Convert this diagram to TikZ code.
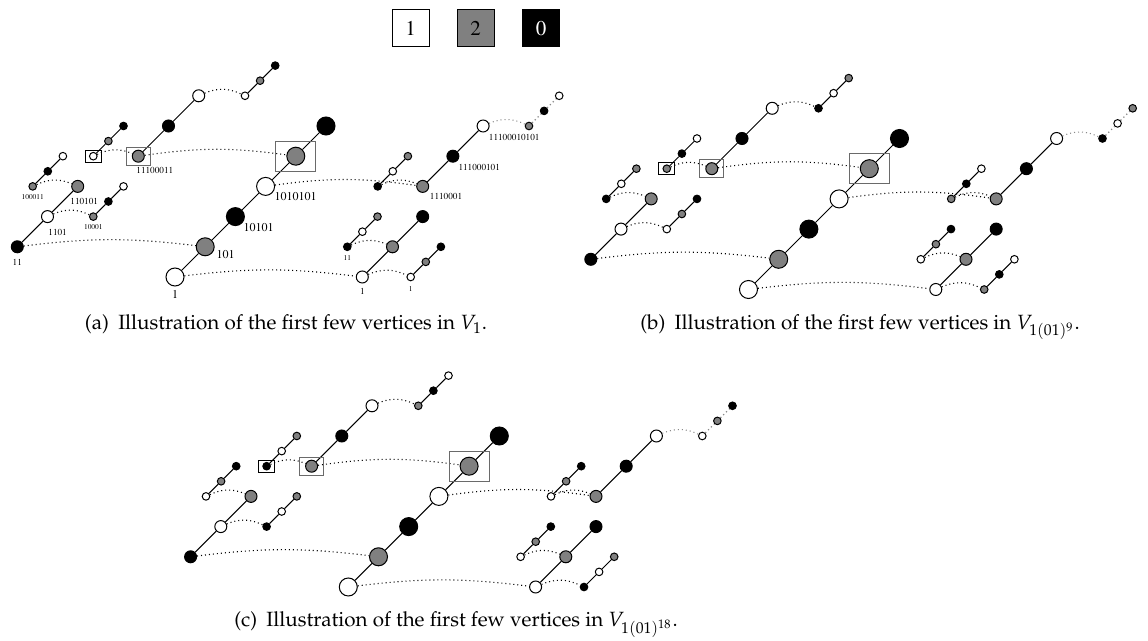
\documentclass[tikz,border=0pt]{standalone}
\usepackage[T1]{fontenc}
\usepackage{mathpazo}
\usepackage{xcolor}
\usepackage{tikz}
\usetikzlibrary{positioning}
\definecolor{col0}{HTML}{FFFFFF}
\definecolor{col1}{HTML}{808080}
\definecolor{col2}{HTML}{000000}
\definecolor{boxgray}{HTML}{6A6A6A}
\definecolor{fadegray}{HTML}{8A8A8A}

\tikzset{
  vtx/.style={circle,draw=black,line width=0.5pt,inner sep=0pt},
  vbig/.style={vtx,minimum size=9pt},
  vmid/.style={vtx,minimum size=6pt},
  vsml/.style={vtx,minimum size=3.8pt},
  rung/.style={line width=0.5pt},
  fadelink/.style={fadegray,line width=0.6pt,dash pattern=on 0.6pt off 1.4pt},
  hop/.style={line width=0.55pt,dash pattern=on 0.5pt off 1.5pt},
  boxS/.style={draw=black,line width=0.5pt,minimum width=8pt,minimum height=6pt,inner sep=0pt},
  boxM/.style={draw=boxgray,line width=0.6pt,minimum width=12pt,minimum height=9pt,inner sep=0pt},
  boxL/.style={draw=boxgray,line width=0.6pt,minimum width=20pt,minimum height=15pt,inner sep=0pt},
  lblL/.style={inner sep=0pt,font=\fontfamily{ptm}\fontsize{6}{7}\selectfont},
  lblM/.style={inner sep=0pt,font=\fontfamily{ptm}\fontsize{4.6}{5}\selectfont},
  lblS/.style={inner sep=0pt,font=\fontfamily{ptm}\fontsize{3.7}{4}\selectfont},
  legbox/.style={draw=black,line width=0.5pt,minimum size=18.5pt,inner sep=0pt,
    font=\fontfamily{ptm}\fontsize{10.5}{12}\selectfont},
  captext/.style={inner sep=0pt,anchor=base,font=\fontsize{10.3}{12}\selectfont}
}

% name, x, y, count, step, shape, first colour, link style
\newcommand\vchain[8]{%
  \foreach \k in {1,...,#4}{
    \pgfmathtruncatemacro{\cc}{mod(#7+\k-1,3)}
    \node[#6,fill=col\cc] (#1\k) at ({#2+(\k-1)*#5},{#3-(\k-1)*#5}) {};
    \ifnum\k>1
      \pgfmathtruncatemacro{\p}{\k-1}
      \draw[#8] (#1\p) -- (#1\k);
    \fi
  }%
}

% name, x shift, y shift, first colours of the eight short chains
\newcommand\vpanel[4]{%
  \begin{scope}[shift={(#2,#3)}]
    \vchain{#1L}{175}{277}{6}{30.2}{vbig}{0}{rung}
    \vchain{#1A}{17.3}{246.8}{3}{30.2}{vmid}{2}{rung}
    \vchain{#1B}{138.3}{156.2}{3}{30.2}{vmid}{1}{rung}
    \vchain{#1C}{362.3}{277}{3}{30.2}{vmid}{0}{rung}
    \vchain{#1D}{422.7}{186.4}{3}{30.2}{vmid}{1}{rung}
    \foreach \nm/\x/\y [count=\i from 0] in {S1/32.7/186.4,S2/93.3/216.6,S3/93.3/156.2,
        S4/245/95.8,S5/347.3/246.8,S6/410.7/277,S7/377.7/186.4}{
      \pgfmathtruncatemacro{\vc}{{#4}[\i]}
      \vchain{#1\nm}{\x}{\y}{3}{15.1}{vsml}{\vc}{rung}
    }
    \pgfmathtruncatemacro{\vc}{{#4}[7]}
    \vchain{#1S8}{529}{126}{3}{15.1}{vsml}{\vc}{fadelink}
    % dotted hops between the chains
    \draw[hop] (#1L1) to[bend left=7] (#1C1);
    \draw[hop] (#1C1) to[bend left=24] (#1S61);
    \draw[hop] (#1A1) to[bend left=7] (#1L2);
    \draw[hop] (#1S51) to[bend left=24] (#1C2);
    \draw[hop] (#1A2) to[bend left=24] (#1S21);
    \draw[hop] (#1S11) to[bend left=24] (#1A3);
    \draw[hop] (#1L4) to[bend left=8] (#1D1);
    \draw[hop] (#1S71) to[bend left=24] (#1D1);
    \draw[hop] (#1S31) to[bend left=24] (#1B1);
    \draw[hop] (#1B1) to[bend left=8] (#1L5);
    \draw[hop] (#1B3) to[bend left=24] (#1S41);
    \draw[hop,fadegray] (#1D3) to[bend left=24] (#1S81);
    \node[boxS] (#1boxS) at (#1S31) {};
    \node[boxM] (#1boxM) at (#1B1) {};
    \node[boxL] (#1boxL) at (#1L5) {};
  \end{scope}%
}

\begin{document}
\begin{tikzpicture}[x=0.5pt,y=-0.5pt]
  \useasboundingbox (0,0) rectangle (1148,641);

  \node[legbox,fill=col0] (key1) at (410.5,28) {1};
  \node[legbox,fill=col1] (key2) at (475.5,28) {2};
  \node[legbox,fill=col2,text=white] (key0) at (541,28) {0};

  \vpanel{a}{0}{0}{1,1,0,0,2,0,2,1}
  \vpanel{b}{573.5}{12.5}{2,0,1,2,0,1,1,2}
  \vpanel{c}{173.3}{310}{0,2,2,1,0,2,0,0}

  % words under the vertices of (a)
  \node[lblL,below=1.5pt of aL1] (t1) {1};
  \node[lblL,below right=1.8pt and 0.8pt of aL2.east] (t101) {101};
  \node[lblL,below right=3.2pt and -0.9pt of aL3.east] (t10101) {10101};
  \node[lblL,below right=3pt and -0.45pt of aL4.east] (t1010101) {1010101};
  \node[lblM,below=2.8pt of aA1] (t11) {11};
  \node[lblM,below right=2.9pt and 0.25pt of aA2.south] (t1101) {1101};
  \node[lblM,below right=2.5pt and -3.85pt of aA3.south] (t110101) {110101};
  \node[lblM,below right=2.3pt and -1.15pt of aB1.south] (t11100011) {11100011};
  \node[lblM,below=2.2pt of aC1] (tc1) {1};
  \node[lblM,below right=3pt and 0.15pt of aD1.east] (t1110001) {1110001};
  \node[lblM,below right=3.9pt and -0.65pt of aD2.east] (t111000101) {111000101};
  \node[lblM,below right=4pt and -0.55pt of aD3.east] (t11100010101) {11100010101};
  \node[lblS,below=1.6pt of aS11] (t100011) {100011};
  \node[lblS,below=1.5pt of aS21] (t10001) {10001};
  \node[lblS,below=1.9pt of aS51] (ts11) {11};
  \node[lblS,below=2.6pt of aS61] (ts1) {1};

  \node[captext] (capa) at (286,330) {(a)\hspace{0.45em}Illustration of the first few vertices in $V_1$.};
  \node[captext] (capb) at (860,330) {(b)\hspace{0.45em}Illustration of the first few vertices in $V_{1(01)^9}$.};
  \node[captext] (capc) at (456,627) {(c)\hspace{0.45em}Illustration of the first few vertices in $V_{1(01)^{18}}$.};
\end{tikzpicture}
\end{document}
